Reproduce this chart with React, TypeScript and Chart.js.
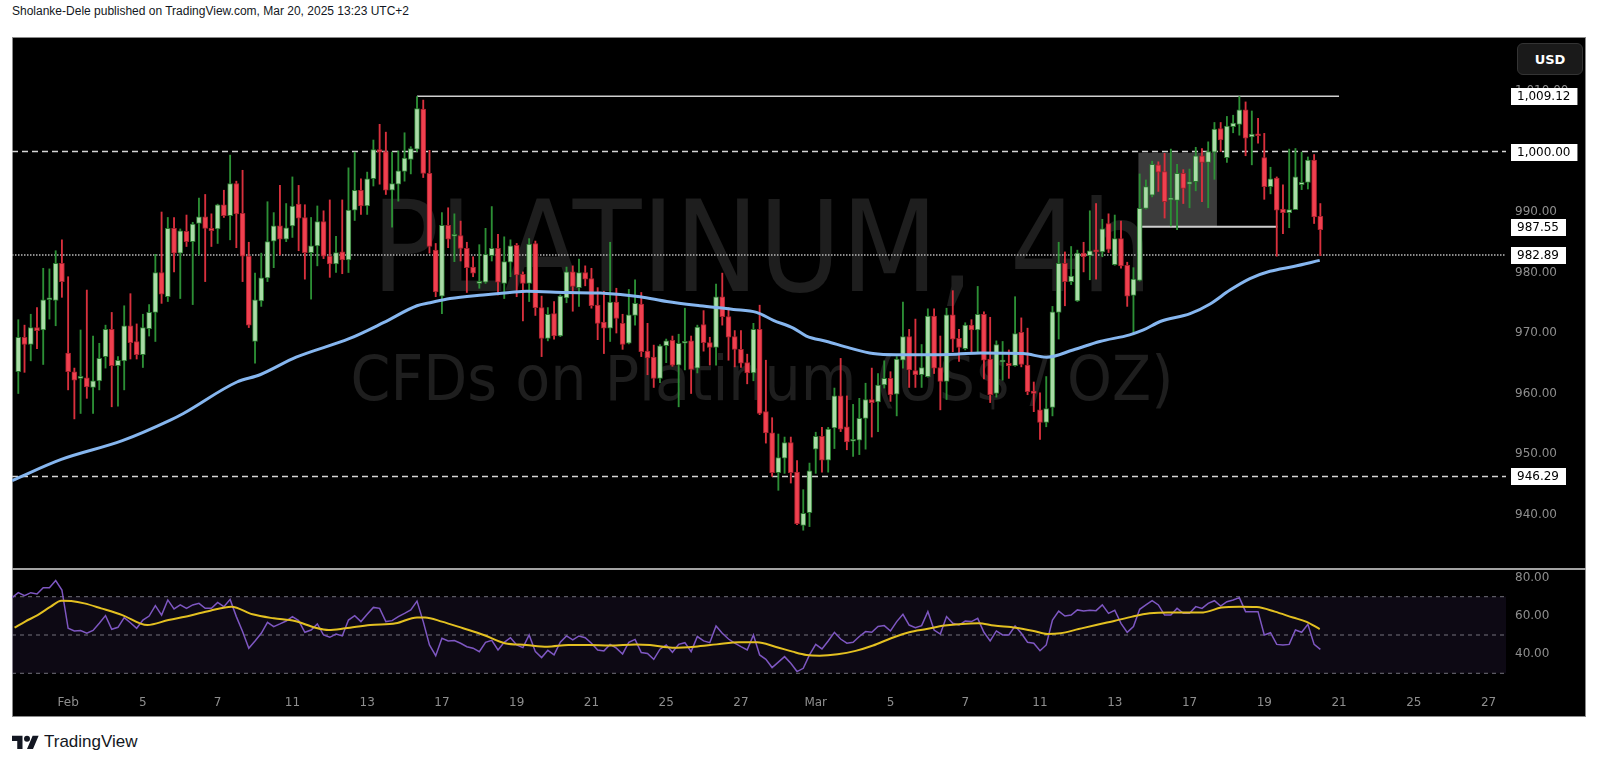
import React, { useEffect, useRef } from "react";
import { Chart, registerables } from "chart.js";

Chart.register(...registerables);

// ---------- candle data (4h bars, index 0 = first visible bar) ----------
const candleOpen = [
  963.6, 969.3, 968.1, 970.9, 970.5, 975.5, 975.4, 981.5, 966.7, 963.6,
  962.5, 962.6, 961.0, 962.1, 966.1, 970.6, 964.6, 965.4, 971.2, 968.6,
  966.4, 970.7, 973.4, 980.0, 976.0, 987.3, 983.2, 986.8, 985.1, 988.1,
  989.2, 987.3, 987.2, 991.2, 989.4, 994.7, 989.8, 982.7, 968.6, 975.3,
  979.1, 985.2, 987.7, 985.5, 987.7, 991.3, 989.1, 983.3, 984.4, 988.4,
  982.7, 981.4, 983.4, 982.1, 990.3, 993.6, 991.0, 995.5, 1000.3, 1000.0,
  993.6, 994.6, 996.7, 998.7, 1000.4, 1007.0, 996.4, 983.7, 976.1, 987.8,
  986.0, 986.1, 984.0, 980.9, 978.2, 978.4, 982.8, 984.0, 978.2, 981.7,
  984.5, 979.7, 978.2, 984.8, 974.2, 969.1, 973.2, 969.5, 975.8, 980.1,
  977.5, 980.0, 979.0, 974.6, 971.8, 970.8, 975.1, 971.6, 968.3, 972.9,
  974.8, 967.0, 966.0, 962.5, 967.9, 968.8, 964.7, 968.3, 968.7, 964.2,
  971.4, 968.4, 967.6, 976.0, 972.7, 969.4, 967.3, 965.1, 963.4, 970.6,
  957.0, 953.5, 946.9, 949.3, 951.9, 947.0, 938.2, 940.3, 950.8, 952.9,
  949.0, 954.3, 959.6, 954.5, 952.1, 952.3, 955.9, 959.0, 958.6, 961.4,
  962.5, 959.9, 965.5, 969.4, 963.8, 963.1, 962.8, 972.8, 964.3, 962.0,
  973.0, 969.1, 967.4, 971.3, 970.5, 973.1, 965.7, 960.0, 965.2, 965.0,
  964.6, 970.1, 964.7, 960.4, 957.3, 955.2, 957.7, 973.4, 981.5, 978.5,
  975.3, 983.2, 982.8, 983.6, 983.4, 988.1, 981.3, 985.6, 981.2, 976.2,
  978.7, 990.6, 992.8, 997.8, 996.7, 992.0, 991.9, 996.4, 994.6, 995.0,
  999.3, 998.2, 999.9, 1003.8, 999.0, 1004.1, 1004.5, 1006.9, 1002.4, 1002.8,
  999.0, 994.2, 995.6, 990.5, 989.9, 990.4, 994.5, 994.9, 998.6, 989.3,
];
const candleHigh = [
  972.2, 971.3, 973.1, 974.2, 980.7, 980.6, 983.6, 985.4, 979.3, 964.2,
  970.5, 977.1, 969.5, 968.3, 971.3, 973.4, 966.1, 974.5, 976.5, 971.5,
  973.1, 974.7, 983.0, 990.0, 989.1, 989.1, 987.2, 989.5, 988.3, 992.3,
  992.9, 989.7, 991.3, 993.6, 999.4, 995.1, 996.9, 985.0, 979.9, 983.2,
  991.7, 989.9, 994.4, 991.4, 995.8, 994.4, 991.2, 989.1, 991.0, 990.2,
  992.0, 986.0, 992.0, 997.3, 999.9, 995.5, 996.6, 1001.9, 1004.5, 1003.2,
  999.9, 1000.1, 1003.1, 1000.8, 1009.1, 1008.5, 1000.2, 984.8, 989.9, 990.7,
  989.7, 988.5, 985.0, 982.6, 984.6, 987.3, 990.9, 986.3, 985.9, 985.4,
  984.8, 980.1, 985.6, 985.2, 976.1, 974.2, 975.2, 976.3, 980.9, 981.1,
  982.2, 981.1, 980.7, 977.5, 976.9, 985.0, 977.4, 973.1, 977.2, 978.8,
  976.7, 971.6, 968.0, 968.1, 969.0, 969.5, 969.8, 974.1, 969.5, 971.3,
  973.7, 969.3, 978.1, 979.9, 974.2, 970.4, 970.4, 966.5, 971.6, 974.6,
  965.5, 956.0, 953.3, 952.8, 952.8, 948.9, 944.1, 948.5, 953.6, 954.4,
  954.4, 960.9, 965.8, 959.6, 958.2, 959.2, 961.7, 964.2, 963.3, 965.4,
  963.6, 966.1, 975.1, 970.6, 972.3, 968.1, 974.0, 974.0, 969.5, 974.1,
  977.0, 970.6, 971.7, 972.2, 977.7, 973.5, 972.6, 968.7, 968.6, 967.2,
  976.0, 972.5, 970.8, 961.9, 960.1, 962.8, 974.4, 985.0, 983.4, 984.3,
  983.7, 985.0, 990.2, 991.4, 988.8, 989.7, 989.5, 988.5, 981.7, 980.8,
  996.3, 995.3, 998.4, 998.3, 999.7, 1000.4, 997.9, 997.0, 997.1, 1000.7,
  1000.5, 1001.6, 1004.8, 1004.8, 1005.8, 1006.0, 1009.1, 1008.2, 1006.7, 1005.5,
  1003.0, 997.4, 995.8, 994.5, 1000.4, 1000.5, 999.9, 999.1, 999.5, 991.4,
];
const candleLow = [
  960.0, 963.5, 965.4, 967.4, 964.8, 972.3, 971.2, 975.9, 960.6, 955.8,
  956.7, 959.2, 956.7, 960.6, 964.2, 957.8, 957.9, 960.6, 965.7, 965.7,
  964.3, 969.5, 968.6, 974.9, 975.2, 980.1, 975.7, 984.3, 974.7, 982.9,
  978.5, 984.3, 984.8, 989.1, 985.4, 984.1, 978.5, 970.9, 965.0, 974.4,
  978.5, 980.8, 982.9, 985.1, 985.8, 983.6, 978.9, 975.6, 981.1, 982.3,
  979.2, 980.0, 979.8, 980.0, 988.6, 989.6, 989.6, 994.3, 994.6, 992.9,
  987.5, 991.8, 995.1, 996.3, 1000.0, 995.7, 983.2, 976.0, 973.2, 984.1,
  981.8, 981.9, 976.7, 979.3, 977.4, 978.2, 981.9, 976.3, 975.7, 979.3,
  976.0, 972.0, 975.2, 972.9, 966.1, 968.7, 969.0, 969.4, 975.0, 973.6,
  974.4, 977.8, 974.1, 968.9, 966.6, 968.6, 970.0, 967.3, 968.2, 971.3,
  966.1, 963.1, 961.0, 961.8, 965.1, 964.5, 957.8, 963.9, 960.0, 963.4,
  967.0, 964.7, 964.7, 971.3, 965.5, 964.4, 964.3, 961.6, 962.1, 956.5,
  951.8, 946.3, 944.0, 946.8, 945.2, 938.3, 937.4, 938.0, 946.8, 947.0,
  947.0, 950.9, 953.7, 950.7, 949.6, 949.9, 950.8, 952.8, 953.7, 960.9,
  958.7, 956.3, 964.2, 961.0, 961.0, 961.0, 962.7, 963.3, 957.3, 959.0,
  966.9, 965.3, 967.2, 966.9, 966.9, 962.4, 958.5, 959.4, 962.2, 962.5,
  964.5, 964.4, 959.8, 957.0, 952.4, 954.5, 956.3, 969.0, 974.5, 978.0,
  975.2, 980.1, 978.8, 978.9, 982.6, 983.3, 981.2, 980.7, 974.4, 969.7,
  978.6, 990.5, 992.5, 993.4, 989.0, 987.7, 987.1, 991.4, 990.7, 993.5,
  991.7, 990.7, 995.4, 1000.0, 998.2, 1003.1, 1002.7, 999.3, 997.8, 1001.4,
  992.1, 993.0, 982.7, 986.4, 987.4, 990.4, 993.7, 993.8, 988.1, 982.8,
];
const candleClose = [
  969.3, 968.1, 970.9, 970.4, 975.5, 975.6, 981.5, 978.5, 963.6, 962.2,
  962.6, 961.1, 962.1, 965.8, 970.6, 964.6, 965.5, 971.2, 968.4, 966.4,
  970.9, 973.4, 980.0, 976.4, 987.3, 983.2, 986.9, 985.1, 988.0, 989.2,
  987.3, 986.9, 991.2, 989.4, 994.7, 989.7, 982.7, 971.3, 975.5, 979.1,
  985.1, 987.7, 985.5, 987.4, 991.0, 989.0, 983.3, 984.4, 988.4, 982.7,
  981.4, 983.3, 982.1, 990.3, 993.6, 991.0, 995.5, 1000.3, 999.9, 993.6,
  994.7, 996.8, 998.9, 1000.5, 1007.1, 996.4, 984.3, 976.8, 987.8, 985.5,
  986.2, 984.0, 980.8, 979.9, 978.4, 983.0, 984.0, 978.4, 981.8, 984.4,
  979.6, 978.2, 984.7, 974.2, 969.1, 973.1, 969.5, 976.1, 980.1, 977.7,
  980.0, 978.9, 974.5, 971.6, 970.8, 975.1, 972.4, 968.1, 973.0, 974.9,
  966.9, 965.9, 962.5, 967.9, 968.7, 964.7, 968.3, 968.6, 964.0, 971.0,
  968.4, 967.6, 976.0, 972.7, 969.3, 967.3, 965.0, 963.4, 970.6, 956.7,
  953.5, 946.9, 949.4, 951.9, 946.9, 938.5, 940.2, 947.2, 952.9, 949.0,
  954.1, 959.6, 954.1, 952.0, 952.3, 955.9, 959.0, 958.5, 961.4, 962.5,
  959.8, 965.7, 969.4, 963.9, 963.1, 964.3, 972.8, 964.2, 962.0, 973.0,
  969.0, 967.6, 971.3, 970.5, 973.1, 965.5, 959.8, 968.1, 965.4, 964.6,
  969.9, 964.8, 960.3, 960.0, 955.2, 957.5, 973.5, 981.5, 978.5, 979.4,
  983.2, 982.6, 983.6, 983.4, 987.2, 983.8, 985.6, 981.1, 976.1, 978.9,
  990.6, 994.2, 997.9, 996.6, 991.7, 992.1, 996.4, 993.9, 995.0, 999.3,
  998.2, 1000.0, 1003.7, 1001.9, 1004.2, 1004.7, 1006.9, 1002.2, 1002.9, 1002.6,
  994.2, 995.5, 990.3, 989.9, 990.4, 995.8, 994.9, 998.6, 989.2, 987.1,
];

// ---------- moving average on price (read at sample bars) ----------
const maIdx = [
  -1, 6.9, 16.7, 24.4, 26.5, 35.1, 38.8, 44.6, 53.2, 58.6,
  64.0, 66.1, 69.3, 74.6, 78.9, 81.6, 88.0, 93.4, 99.8, 104.1,
  109.4, 114.8, 118.5, 121.2, 124.4, 126.5, 129.8, 133.5, 137.2, 141.0,
  145.8, 150.6, 154.4, 161.3, 165.1, 169.3, 173.6, 178.4, 180.6, 183.3,
  188.1, 191.3, 194.5, 197.7, 200.9, 204.7, 208.9,
];
const maVal = [
  945.6, 949.1, 952.2, 955.6, 956.7, 961.9, 963.1, 966.0, 969.1, 971.7,
  974.5, 975.0, 975.7, 976.3, 976.7, 976.9, 976.7, 976.6, 976.0, 975.2,
  974.5, 973.9, 973.4, 972.1, 970.8, 969.5, 968.6, 967.5, 966.6, 966.4,
  966.4, 966.5, 966.7, 966.6, 966.0, 967.2, 968.6, 969.7, 970.5, 971.9,
  973.2, 974.8, 977.1, 979.0, 980.2, 981.0, 982.0,
];

// ---------- RSI (one value per bar, starting at bar -1) ----------
const rsiFirstIdx = -1;
const rsiValues = [
  69.5, 72.1, 70.5, 72.1, 71.4, 74.7, 74.7, 78.4, 73.5, 53.5,
  52.1, 52.3, 50.9, 52.4, 56.1, 60.1, 53.0, 54.0, 59.1, 56.4,
  53.5, 57.8, 59.9, 65.3, 60.4, 68.3, 63.6, 65.7, 63.9, 65.7,
  66.5, 63.9, 63.9, 67.0, 64.8, 68.6, 59.6, 51.8, 43.1, 46.9,
  50.9, 56.6, 54.4, 55.8, 57.3, 59.6, 57.5, 51.4, 52.6, 55.8,
  50.0, 48.8, 50.5, 49.5, 57.8, 60.1, 57.0, 60.8, 64.4, 63.9,
  57.0, 57.5, 59.6, 61.3, 63.1, 67.7, 57.0, 44.8, 39.2, 48.3,
  46.9, 47.1, 45.7, 43.9, 43.1, 41.3, 46.2, 47.2, 42.2, 46.2,
  48.6, 44.8, 43.4, 50.0, 41.3, 38.2, 42.0, 39.6, 46.2, 49.5,
  47.4, 49.5, 48.6, 45.7, 42.2, 41.7, 45.1, 43.1, 40.1, 46.2,
  47.7, 40.8, 40.3, 37.3, 42.6,
  44.8, 41.0, 45.1, 46.0, 41.3, 49.2, 46.9, 46.0, 54.7, 50.9,
  47.9, 45.7, 43.9, 42.2, 50.0, 39.6, 37.3, 33.0, 35.8, 38.7,
  35.2, 30.9, 32.6, 39.6, 45.1, 42.7, 46.9, 51.4, 47.9, 45.7,
  46.2, 49.2, 51.8, 51.4, 54.4, 54.9, 52.1, 57.0, 60.8, 55.2,
  53.8, 54.9, 62.2, 52.6, 50.5, 59.6, 56.1, 55.2, 57.3, 57.0,
  58.7, 51.4, 46.9, 52.1, 50.0, 50.0, 54.7, 50.9, 46.2, 45.7,
  41.8, 44.8, 57.8, 62.5, 59.9, 60.4, 63.1, 62.5, 62.9, 62.7,
  65.7, 61.3, 62.9, 56.1, 51.4, 54.4, 63.4, 65.7, 67.9, 65.7,
  60.4, 60.4, 63.9, 61.3, 61.3, 64.8, 63.9, 66.5, 67.9, 65.1,
  67.4, 68.3, 69.5, 62.2, 62.2, 62.2, 50.0, 51.2, 45.1, 44.8,
  45.1, 52.6, 51.4, 55.6, 45.1, 42.5,
];

// ---------- RSI-based moving average (read at sample bars) ----------
const rsiMaIdx = [
  -0.6, 1.1, 3.1, 5.2, 6.9, 8.5, 10.6, 13.3, 16.7, 20.7,
  24.1, 27.5, 30.8, 34.2, 37.6, 41.0, 44.4, 47.7, 49.8, 52.5,
  56.5, 60.6, 64.0, 65.3, 68.0, 71.4, 74.7, 78.1, 81.5, 84.9,
  88.3, 91.6, 95.0, 99.1, 101.4, 105.0, 108.6, 112.1, 115.7, 118.6,
  121.5, 124.3, 126.5, 128.6, 131.5, 134.4, 137.2, 140.1, 143.0, 145.8,
  148.7, 151.5, 154.1, 156.6, 160.1, 163.0, 165.2, 167.3, 170.2, 173.0,
  175.9, 178.8, 181.6, 184.5, 187.4, 190.2, 193.1, 196.0, 198.8, 201.7,
  204.6, 206.7, 208.9,
];
const rsiMaVal = [
  53.8, 57.0, 60.4, 64.8, 67.9, 67.7, 66.5, 63.9, 60.4, 55.2,
  57.8, 60.1, 62.7, 64.8, 60.8, 58.7, 57.3, 53.8, 52.6, 53.5,
  55.2, 56.1, 59.2, 59.2, 57.0, 53.5, 50.0, 45.7, 44.8, 43.9,
  44.8, 44.8, 44.5, 45.1, 44.8, 43.4, 43.9, 45.1, 46.2, 46.2,
  43.9, 41.3, 39.6, 39.2, 39.9, 41.7, 44.5, 48.3, 51.4, 53.1,
  54.9, 55.8, 56.1, 54.9, 53.8, 52.1, 50.5, 50.9, 53.1, 55.2,
  57.3, 59.6, 61.3, 61.8, 61.7, 61.8, 64.3, 64.8, 64.6, 62.2,
  59.1, 57.0, 53.1,
];

// ---------- axes ----------
const timeTickIdx = [8, 20, 32, 44, 56, 68, 80, 92, 104, 116, 128, 140, 152, 164, 176, 188, 200, 212, 224, 236];
const timeTickLabels = ["Feb", "5", "7", "11", "13", "17", "19", "21", "25", "27", "Mar", "5", "7", "11", "13", "17", "19", "21", "25", "27"];
const priceTicks = [940, 950, 960, 970, 980, 990, 1000, 1010];
const rsiTicks = [40, 60, 80];
const rsiLevels = [70, 50, 30];

// ---------- drawings ----------
const peakLevel = 1009.12;
const peakLevelSpan = [64, 212];
const roundLevel = 1000;
const zoneBaseLevel = 987.55;
const zoneBaseSpan = [180.3, 202.1];
const lastPrice = 982.89;
const supportLevel = 946.29;
const zoneBars = [179.8, 192.4];
const zonePrices = [987.55, 999.8];
const axisTags = [1009.12, 1000.0, 987.55, 982.89, 946.29];

const watermarkTitle = "PLATINUM, 4h";
const watermarkSubtitle = "CFDs on Platinum (US$ / OZ)";

// ---------- view ----------
const X_MIN = -1.01;
const X_MAX = 238.8;
const PRICE_MIN = 930.99;
const PRICE_MAX = 1018.93;
const RSI_MIN = 21.8;
const RSI_MAX = 84.46;
const AXIS_W = 80;

const UP_BODY = "#a9dca6";
const UP_BORDER = "#2b7a31";
const UP_WICK = "#2c8f35";
const DOWN_BODY = "#f0404f";
const DOWN_BORDER = "#a8222e";
const DOWN_WICK = "#d9303d";
const AXIS_TEXT = "#8e8e8e";
const FONT = "DejaVu Sans";

const fmt2 = (v: number) =>
  Number(v).toLocaleString("en-US", { minimumFractionDigits: 2, maximumFractionDigits: 2 });

const flat = (value: number, from = X_MIN, to = X_MAX) => [
  { x: from, y: value },
  { x: to, y: value },
];

const lineDs = (data: any[], color: string, width: number, dash: number[], order: number, extra: any = {}) => ({
  type: "line",
  data,
  borderColor: color,
  borderWidth: width,
  borderDash: dash,
  pointRadius: 0,
  fill: false,
  tension: 0,
  order,
  ...extra,
});

const rightAxisFit = (s: any) => {
  s.width = AXIS_W;
  s.paddingTop = 0;
  s.paddingBottom = 0;
};

const isUp = (i: number) => candleClose[i] >= candleOpen[i];

const watermarkPlugin = {
  id: "watermark",
  beforeDatasetsDraw(chart: any) {
    const { ctx, chartArea } = chart;
    const cx = (chartArea.left + chartArea.right) / 2;
    ctx.save();
    ctx.fillStyle = "#1e1e1e";
    ctx.textAlign = "center";
    ctx.textBaseline = "alphabetic";
    ctx.font = `127px "${FONT}"`;
    ctx.fillText(watermarkTitle, cx + 3, 254, 781);
    ctx.font = `63px "${FONT}"`;
    ctx.fillText(watermarkSubtitle, cx + 3, 363, 823);
    ctx.restore();
  },
};

const zonePlugin = {
  id: "zone",
  beforeDatasetsDraw(chart: any) {
    const { ctx, scales } = chart;
    const x0 = scales.x.getPixelForValue(zoneBars[0]);
    const x1 = scales.x.getPixelForValue(zoneBars[1]);
    const y0 = scales.y.getPixelForValue(zonePrices[1]);
    const y1 = scales.y.getPixelForValue(zonePrices[0]);
    ctx.save();
    ctx.fillStyle = "rgba(120,120,120,0.5)";
    ctx.fillRect(x0, y0, x1 - x0, y1 - y0);
    ctx.restore();
  },
};

const tagPlugin = {
  id: "tags",
  afterDraw(chart: any) {
    const { ctx, scales, chartArea } = chart;
    ctx.save();
    ctx.font = `12px "${FONT}"`;
    ctx.textBaseline = "middle";
    ctx.textAlign = "left";
    axisTags.forEach((v) => {
      const y = scales.y.getPixelForValue(v);
      const text = fmt2(v);
      const w = ctx.measureText(text).width + 13;
      const x = chartArea.right + 5;
      ctx.fillStyle = "#ffffff";
      ctx.fillRect(x, Math.round(y) - 8, w, 17);
      ctx.fillStyle = "#000000";
      ctx.fillText(text, x + 6, Math.round(y) + 1);
    });
    ctx.restore();
  },
};

const rsiBandPlugin = {
  id: "rsiBand",
  beforeDatasetsDraw(chart: any) {
    const { ctx, scales, chartArea } = chart;
    const y0 = scales.y.getPixelForValue(rsiLevels[0]);
    const y1 = scales.y.getPixelForValue(rsiLevels[2]);
    ctx.save();
    ctx.fillStyle = "rgba(126,87,194,0.1)";
    ctx.fillRect(chartArea.left, y0, chartArea.right - chartArea.left, y1 - y0);
    ctx.restore();
  },
};

function mainConfig(): any {
  const idx = candleOpen.map((_, i) => i);
  return {
    type: "bar",
    data: {
      datasets: [
        lineDs(flat(roundLevel), "#d6d6d6", 1.5, [6, 4], 10),
        lineDs(flat(supportLevel), "#d6d6d6", 1.5, [6, 4], 10),
        lineDs(flat(lastPrice), "#b9b9b9", 1.5, [1.5, 1.5], 10),
        lineDs(flat(peakLevel, peakLevelSpan[0], peakLevelSpan[1]), "#cfcfcf", 1.5, [], 10),
        lineDs(flat(zoneBaseLevel, zoneBaseSpan[0], zoneBaseSpan[1]), "#cfcfcf", 2, [], 10),
        {
          type: "bar",
          data: idx.map((i) => ({ x: i, y: [candleLow[i], candleHigh[i]] })),
          backgroundColor: (c: any) => (isUp(c.dataIndex) ? UP_WICK : DOWN_WICK),
          barThickness: 1.2,
          grouped: false,
          order: 4,
        },
        {
          type: "bar",
          data: idx.map((i) => ({ x: i, y: [candleOpen[i], candleClose[i]] })),
          backgroundColor: (c: any) => (isUp(c.dataIndex) ? UP_BODY : DOWN_BODY),
          borderColor: (c: any) => (isUp(c.dataIndex) ? UP_BORDER : DOWN_BORDER),
          borderWidth: 1,
          borderSkipped: false,
          barThickness: 5,
          minBarLength: 2,
          grouped: false,
          order: 3,
        },
        lineDs(
          maIdx.map((x, k) => ({ x, y: maVal[k] })),
          "#86b6ef",
          3,
          [],
          1,
          { cubicInterpolationMode: "monotone" }
        ),
      ],
    },
    options: {
      responsive: false,
      animation: false,
      devicePixelRatio: 1,
      events: [],
      layout: { padding: 0 },
      plugins: { legend: { display: false }, tooltip: { enabled: false } },
      scales: {
        x: {
          type: "linear",
          min: X_MIN,
          max: X_MAX,
          offset: false,
          display: false,
          grid: { display: false, offset: false },
        },
        y: {
          type: "linear",
          position: "right",
          min: PRICE_MIN,
          max: PRICE_MAX,
          afterBuildTicks: (s: any) => {
            s.ticks = priceTicks.map((v) => ({ value: v }));
          },
          afterFit: rightAxisFit,
          grid: { display: false, drawTicks: false },
          border: { display: false },
          ticks: {
            color: AXIS_TEXT,
            font: { family: FONT, size: 12 },
            padding: 9,
            callback: (v: any) => fmt2(v),
          },
        },
      },
    },
    plugins: [watermarkPlugin, zonePlugin, tagPlugin],
  };
}

function rsiConfig(): any {
  return {
    type: "line",
    data: {
      datasets: [
        ...rsiLevels.map((lv) => lineDs(flat(lv), "rgba(150,150,160,0.75)", 1, [4, 4], 10)),
        lineDs(
          rsiValues.map((v, k) => ({ x: rsiFirstIdx + k, y: v })),
          "#7e57c2",
          1.5,
          [],
          2
        ),
        lineDs(
          rsiMaIdx.map((x, k) => ({ x, y: rsiMaVal[k] })),
          "#e3c021",
          2,
          [],
          1,
          { cubicInterpolationMode: "monotone" }
        ),
      ],
    },
    options: {
      responsive: false,
      animation: false,
      devicePixelRatio: 1,
      events: [],
      layout: { padding: 0 },
      plugins: { legend: { display: false }, tooltip: { enabled: false } },
      scales: {
        x: {
          type: "linear",
          min: X_MIN,
          max: X_MAX,
          offset: false,
          position: "bottom",
          afterBuildTicks: (s: any) => {
            s.ticks = timeTickIdx.map((v) => ({ value: v }));
          },
          afterFit: (s: any) => {
            s.height = 28;
            s.paddingLeft = 0;
            s.paddingRight = 0;
          },
          grid: { display: false, drawTicks: false },
          border: { display: false },
          ticks: {
            autoSkip: false,
            maxRotation: 0,
            color: AXIS_TEXT,
            font: { family: FONT, size: 12 },
            padding: 7,
            callback: (v: any) => {
              const k = timeTickIdx.indexOf(Number(v));
              return k >= 0 ? timeTickLabels[k] : "";
            },
          },
        },
        y: {
          type: "linear",
          position: "right",
          min: RSI_MIN,
          max: RSI_MAX,
          afterBuildTicks: (s: any) => {
            s.ticks = rsiTicks.map((v) => ({ value: v }));
          },
          afterFit: rightAxisFit,
          grid: { display: false, drawTicks: false },
          border: { display: false },
          ticks: {
            color: AXIS_TEXT,
            font: { family: FONT, size: 12 },
            padding: 9,
            callback: (v: any) => fmt2(v),
          },
        },
      },
    },
    plugins: [rsiBandPlugin],
  };
}

export default function App() {
  const mainRef = useRef<HTMLCanvasElement>(null);
  const rsiRef = useRef<HTMLCanvasElement>(null);

  useEffect(() => {
    const main = new Chart(mainRef.current as HTMLCanvasElement, mainConfig());
    const rsi = new Chart(rsiRef.current as HTMLCanvasElement, rsiConfig());
    return () => {
      main.destroy();
      rsi.destroy();
    };
  }, []);

  return (
    <div
      style={{
        position: "fixed",
        left: 0,
        top: 0,
        width: 1600,
        height: 766,
        background: "#ffffff",
        overflow: "hidden",
      }}
    >
      <div
        style={{
          position: "absolute",
          left: 12,
          top: 4,
          fontFamily: '"Liberation Sans", sans-serif',
          fontSize: 12,
          color: "#131722",
          whiteSpace: "nowrap",
        }}
      >
        Sholanke-Dele published on TradingView.com, Mar 20, 2025 13:23 UTC+2
      </div>
      <div
        style={{
          position: "absolute",
          left: 12,
          top: 37,
          width: 1574,
          height: 680,
          background: "#000000",
          border: "1px solid #8a8a8a",
          boxSizing: "border-box",
        }}
      />
      <canvas
        ref={mainRef}
        width={1574}
        height={532}
        style={{ position: "absolute", left: 12, top: 37, width: 1574, height: 532 }}
      />
      <div
        style={{
          position: "absolute",
          left: 12,
          top: 568,
          width: 1574,
          height: 2,
          background: "#a3a3a3",
        }}
      />
      <canvas
        ref={rsiRef}
        width={1574}
        height={148}
        style={{ position: "absolute", left: 12, top: 569, width: 1574, height: 148 }}
      />
      <div
        style={{
          position: "absolute",
          left: 1517,
          top: 43,
          width: 66,
          height: 32,
          boxSizing: "border-box",
          background: "#1a1a1a",
          border: "1px solid #343434",
          borderRadius: 6,
          color: "#ffffff",
          fontFamily: `"${FONT}", sans-serif`,
          fontWeight: "bold",
          fontSize: 13,
          display: "flex",
          alignItems: "center",
          justifyContent: "center",
        }}
      >
        USD
      </div>
      <div
        style={{
          position: "absolute",
          left: 12,
          top: 732,
          display: "flex",
          alignItems: "center",
          gap: 5,
          color: "#131722",
        }}
      >
        <svg width={27} height={14} viewBox="0 3 36 19" preserveAspectRatio="none">
          <path d="M14 22H7V11H0V4h14v18ZM28 22h-8l7.5-18h8L28 22Z" fill="#131722" />
          <circle cx="20" cy="8" r="4" fill="#131722" />
        </svg>
        <span style={{ fontFamily: '"Liberation Sans", sans-serif', fontSize: 17 }}>TradingView</span>
      </div>
    </div>
  );
}
